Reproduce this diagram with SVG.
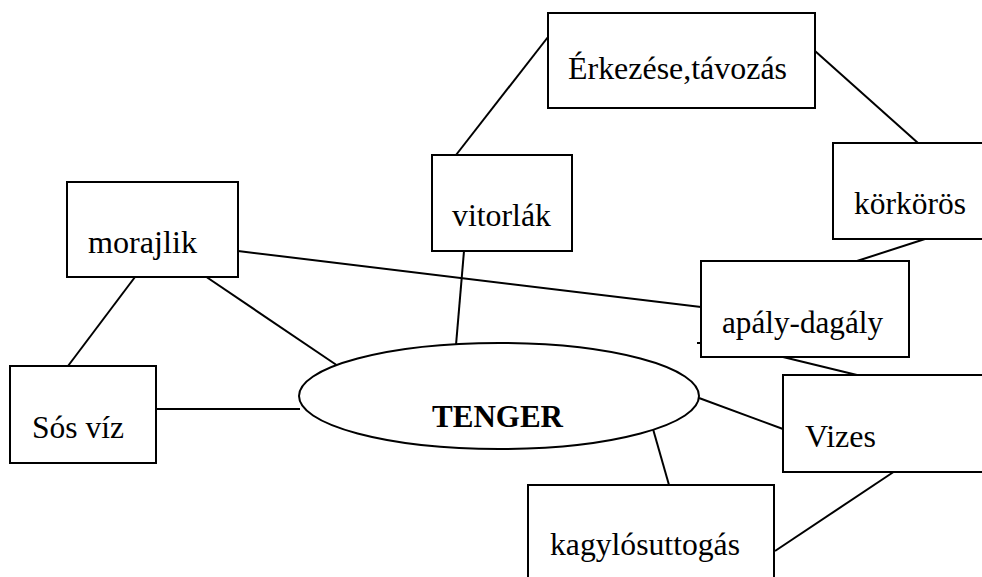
<svg xmlns="http://www.w3.org/2000/svg" width="982" height="577" viewBox="0 0 982 577">
  <style>
    .box { fill: #fff; stroke: #000; stroke-width: 2; }
    .lbl { font-family: "Liberation Serif", "Times New Roman", serif; font-size: 31px; fill: #000; }
    .main { font-weight: bold; }
    .edge { stroke: #000; stroke-width: 2; fill: none; }
  </style>
  <rect x="0" y="0" width="982" height="577" fill="#fff"/>

  <!-- connectors -->
  <g id="connectors">
    <line class="edge" x1="456" y1="155" x2="548" y2="37"/>
    <line class="edge" x1="815" y1="51" x2="918" y2="143"/>
    <line class="edge" x1="925" y1="239" x2="857" y2="261"/>
    <line class="edge" x1="238" y1="251" x2="701" y2="307"/>
    <line class="edge" x1="783" y1="357" x2="857" y2="375"/>
    <line class="edge" x1="135" y1="277" x2="68" y2="366"/>
    <line class="edge" x1="202" y1="274" x2="338" y2="366"/>
    <line class="edge" x1="157" y1="409" x2="300" y2="409"/>
    <line class="edge" x1="464" y1="251" x2="456" y2="345"/>
    <line class="edge" x1="699" y1="398" x2="783" y2="429"/>
    <line class="edge" x1="653" y1="429" x2="669" y2="485"/>
    <line class="edge" x1="895" y1="471" x2="775" y2="551"/>
    <line class="edge" x1="697" y1="343" x2="700" y2="343"/>
  </g>

  <!-- central concept -->
  <g id="tenger">
    <ellipse class="box" cx="499" cy="396" rx="200" ry="53"/>
    <text class="lbl main" x="432" y="427" textLength="131" lengthAdjust="spacingAndGlyphs">TENGER</text>
  </g>

  <g id="erkezese">
    <rect class="box" x="548" y="13" width="267" height="95"/>
    <text class="lbl" x="568" y="79" textLength="219" lengthAdjust="spacingAndGlyphs">Érkezése,távozás</text>
  </g>

  <g id="vitorlak">
    <rect class="box" x="432" y="155" width="140" height="96"/>
    <text class="lbl" x="452" y="226" textLength="99" lengthAdjust="spacingAndGlyphs">vitorlák</text>
  </g>

  <g id="korkoros">
    <rect class="box" x="833" y="143" width="160" height="96"/>
    <text class="lbl" x="854" y="214" textLength="112" lengthAdjust="spacingAndGlyphs">körkörös</text>
  </g>

  <g id="morajlik">
    <rect class="box" x="67" y="182" width="171" height="95"/>
    <text class="lbl" x="88" y="253" textLength="109" lengthAdjust="spacingAndGlyphs">morajlik</text>
  </g>

  <g id="apaly-dagaly">
    <rect class="box" x="701" y="261" width="208" height="96"/>
    <text class="lbl" x="722" y="333" textLength="161" lengthAdjust="spacingAndGlyphs">apály-dagály</text>
  </g>

  <g id="sos-viz">
    <rect class="box" x="10" y="366" width="146" height="97"/>
    <text class="lbl" x="32" y="438" textLength="92" lengthAdjust="spacingAndGlyphs">Sós víz</text>
  </g>

  <g id="vizes">
    <rect class="box" x="783" y="375" width="210" height="97"/>
    <text class="lbl" x="805" y="447" textLength="71" lengthAdjust="spacingAndGlyphs">Vizes</text>
  </g>

  <g id="kagylosuttogas">
    <rect class="box" x="528" y="485" width="246" height="110"/>
    <text class="lbl" x="550" y="555" textLength="190" lengthAdjust="spacingAndGlyphs">kagylósuttogás</text>
  </g>
</svg>
